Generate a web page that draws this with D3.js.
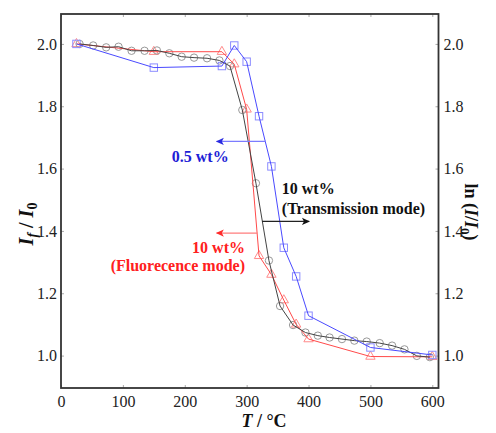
<!DOCTYPE html>
<html>
<head>
<meta charset="utf-8">
<script src="https://cdn.jsdelivr.net/npm/d3@7"></script>
<style>
  body { margin: 0; background: #fff; }
  svg text { font-family: "Liberation Serif", "Times New Roman", serif; }
</style>
</head>
<body>
<div class="plot"></div>
<script>
// values
var blackT = [30, 52, 73, 93, 114, 135, 155, 175, 195, 215, 236, 256, 273, 293, 315, 336, 354, 375,
              395, 415, 434, 454, 474, 494, 515, 535, 555, 575, 596];
var blackV = [2.000, 1.995, 1.989, 1.991, 1.978, 1.978, 1.979, 1.970, 1.959, 1.956, 1.954, 1.947, 1.929,
              1.788, 1.553, 1.305, 1.159, 1.098, 1.074, 1.064, 1.058, 1.053, 1.048, 1.045, 1.040,
              1.032, 1.020, 0.999, 0.995];
var blueT = [25, 150, 260, 280, 300, 320, 340, 360, 380, 400, 500, 600];
var blueV = [2.000, 1.924, 1.929, 1.995, 1.943, 1.768, 1.607, 1.346, 1.254, 1.128, 1.026, 1.002];
var redT = [25, 150, 260, 280, 300, 320, 340, 360, 380, 400, 500, 600];
var redV = [2.000, 1.975, 1.975, 1.935, 1.790, 1.320, 1.260, 1.178, 1.100, 1.053, 0.997, 0.996];

var xTicks = [0, 100, 200, 300, 400, 500, 600];
var yTicks = [1.0, 1.2, 1.4, 1.6, 1.8, 2.0];

var W = 496, H = 433;
var m = {t: 14, r: 57.5, b: 45, l: 61},
    w = W - m.l - m.r,
    h = H - m.t - m.b;

var x = d3.scaleLinear().domain([0, 610]).range([0, w]);
var y = d3.scaleLinear().domain([0.896, 2.096]).range([h, 0]);

var svg = d3.select('.plot').append('svg')
    .attr('width', W)
    .attr('height', H);

var defs = svg.append('defs');
function arrowMarker(id, color){
    defs.append('marker')
        .attr('id', id)
        .attr('viewBox', '0 -5 10 10')
        .attr('refX', 9)
        .attr('refY', 0)
        .attr('markerWidth', 10)
        .attr('markerHeight', 8)
        .attr('markerUnits', 'userSpaceOnUse')
        .attr('orient', 'auto')
        .append('path')
        .attr('d', 'M0,-4.5L10,0L0,4.5L2.5,0Z')
        .attr('fill', color);
}
arrowMarker('arrBlue', '#2a2ae0');
arrowMarker('arrRed', '#ff2a2a');
arrowMarker('arrBlack', '#111');

var plot = svg.append('g')
    .attr('transform', 'translate(' + m.l + ',' + m.t + ')');

// axes, ticks pointing inward
function styleAxis(g){
    g.select('.domain').remove();
    g.selectAll('.tick line').attr('stroke', '#aaa');
    g.selectAll('.tick text').attr('fill', '#222').style('font-size', '16px')
        .style('font-family', '"Liberation Serif", serif');
}
plot.append('g')
    .attr('transform', 'translate(0,' + h + ')')
    .call(d3.axisBottom(x).tickValues(xTicks).tickSizeInner(-3).tickSizeOuter(0).tickPadding(8))
    .call(styleAxis);
plot.append('g')
    .call(d3.axisTop(x).tickValues(xTicks).tickSizeInner(-3).tickSizeOuter(0).tickFormat(''))
    .call(styleAxis);
plot.append('g')
    .call(d3.axisLeft(y).tickValues(yTicks).tickSizeInner(-3).tickSizeOuter(0).tickPadding(4).tickFormat(d3.format('.1f')))
    .call(styleAxis);
plot.append('g')
    .attr('transform', 'translate(' + w + ',0)')
    .call(d3.axisRight(y).tickValues(yTicks).tickSizeInner(-3).tickSizeOuter(0).tickPadding(5).tickFormat(d3.format('.1f')))
    .call(styleAxis);

plot.append('rect')
    .attr('width', w)
    .attr('height', h)
    .attr('fill', 'none')
    .attr('stroke', '#333')
    .attr('stroke-width', 1.8);

function pts(ts, vs){ return ts.map(function(t, i){ return [t, vs[i]]; }); }
var black = pts(blackT, blackV),
    blue = pts(blueT, blueV),
    red = pts(redT, redV);

var line = d3.line()
    .x(function(d){ return x(d[0]); })
    .y(function(d){ return y(d[1]); });

// markers
plot.selectAll('.tri')
    .data(red)
    .enter()
    .append('path')
    .attr('class', 'tri')
    .attr('d', d3.symbol().type(d3.symbolTriangle).size(38))
    .attr('transform', function(d){ return 'translate(' + x(d[0]) + ',' + y(d[1]) + ')'; })
    .attr('fill', 'none')
    .attr('stroke', '#ff8a8a')
    .attr('stroke-width', 1);

plot.selectAll('.circ')
    .data(black)
    .enter()
    .append('circle')
    .attr('class', 'circ')
    .attr('cx', function(d){ return x(d[0]); })
    .attr('cy', function(d){ return y(d[1]); })
    .attr('r', 3.7)
    .attr('fill', 'none')
    .attr('stroke', '#999')
    .attr('stroke-width', 1);

plot.selectAll('.sq')
    .data(blue)
    .enter()
    .append('rect')
    .attr('class', 'sq')
    .attr('x', function(d){ return x(d[0]) - 3.7; })
    .attr('y', function(d){ return y(d[1]) - 3.7; })
    .attr('width', 7.4)
    .attr('height', 7.4)
    .attr('fill', 'none')
    .attr('stroke', '#8c8cff')
    .attr('stroke-width', 1);

// lines
plot.append('path').datum(red)
    .attr('d', line).attr('fill', 'none').attr('stroke', '#ff4a4a').attr('stroke-width', 1);
plot.append('path').datum(black)
    .attr('d', line).attr('fill', 'none').attr('stroke', '#444').attr('stroke-width', 1);
plot.append('path').datum(blue)
    .attr('d', line).attr('fill', 'none').attr('stroke', '#4a4aff').attr('stroke-width', 1);

// annotations (data units)
function arrow(t0, t1, v, stroke, id){
    plot.append('line')
        .attr('x1', x(t0)).attr('x2', x(t1))
        .attr('y1', y(v)).attr('y2', y(v))
        .attr('stroke', stroke)
        .attr('stroke-width', 1.3)
        .attr('marker-end', 'url(#' + id + ')');
}
arrow(331, 251.5, 1.687, '#7c7cff', 'arrBlue');
arrow(317, 251.5, 1.393, '#ff7c7c', 'arrRed');
arrow(325, 401, 1.4305, '#222', 'arrBlack');

function label(lines, t, v0, dv, anchor, color){
    lines.forEach(function(s, i){
        plot.append('text')
            .attr('x', x(t))
            .attr('y', y(v0 - i * dv))
            .attr('text-anchor', anchor)
            .attr('fill', color)
            .style('font-size', '16px')
            .style('font-weight', 'bold')
            .text(s);
    });
}
label(['0.5 wt%'], 271.0, 1.6203, 0, 'end', '#1e1ed6');
label(['10 wt%', '(Fluorecence mode)'], 297.3, 1.3286, 0.0578, 'end', '#ff2020');
label(['10 wt%', '(Transmission mode)'], 356.8, 1.5173, 0.0642, 'start', '#111');

// axis titles
var xt = svg.append('text')
    .attr('x', 264)
    .attr('y', 427)
    .attr('text-anchor', 'middle')
    .attr('fill', '#111')
    .style('font-size', '18px')
    .style('font-weight', 'bold');
xt.append('tspan').style('font-style', 'italic').text('T');
xt.append('tspan').text(' / \u00b0C');

var yl = svg.append('text')
    .attr('transform', 'translate(33,224) rotate(-90)')
    .attr('text-anchor', 'middle')
    .attr('fill', '#111')
    .style('font-size', '20px')
    .style('font-weight', 'bold');
yl.append('tspan').style('font-style', 'italic').text('I');
yl.append('tspan').style('font-style', 'italic').style('font-size', '14px').attr('dy', 4).text('f');
yl.append('tspan').attr('dy', -4).text(' / ');
yl.append('tspan').style('font-style', 'italic').text('I');
yl.append('tspan').style('font-size', '14px').attr('dy', 4).text('0');

var yr = svg.append('text')
    .attr('transform', 'translate(465,212) rotate(90)')
    .attr('text-anchor', 'middle')
    .attr('fill', '#111')
    .style('font-size', '18px')
    .style('font-weight', 'bold');
yr.append('tspan').text('ln (');
yr.append('tspan').style('font-style', 'italic').text('I');
yr.append('tspan').text('/');
yr.append('tspan').style('font-style', 'italic').text('I');
yr.append('tspan').style('font-size', '13px').attr('dy', 4).text('0');
yr.append('tspan').attr('dy', -4).text(')');
</script>
</body>
</html>
